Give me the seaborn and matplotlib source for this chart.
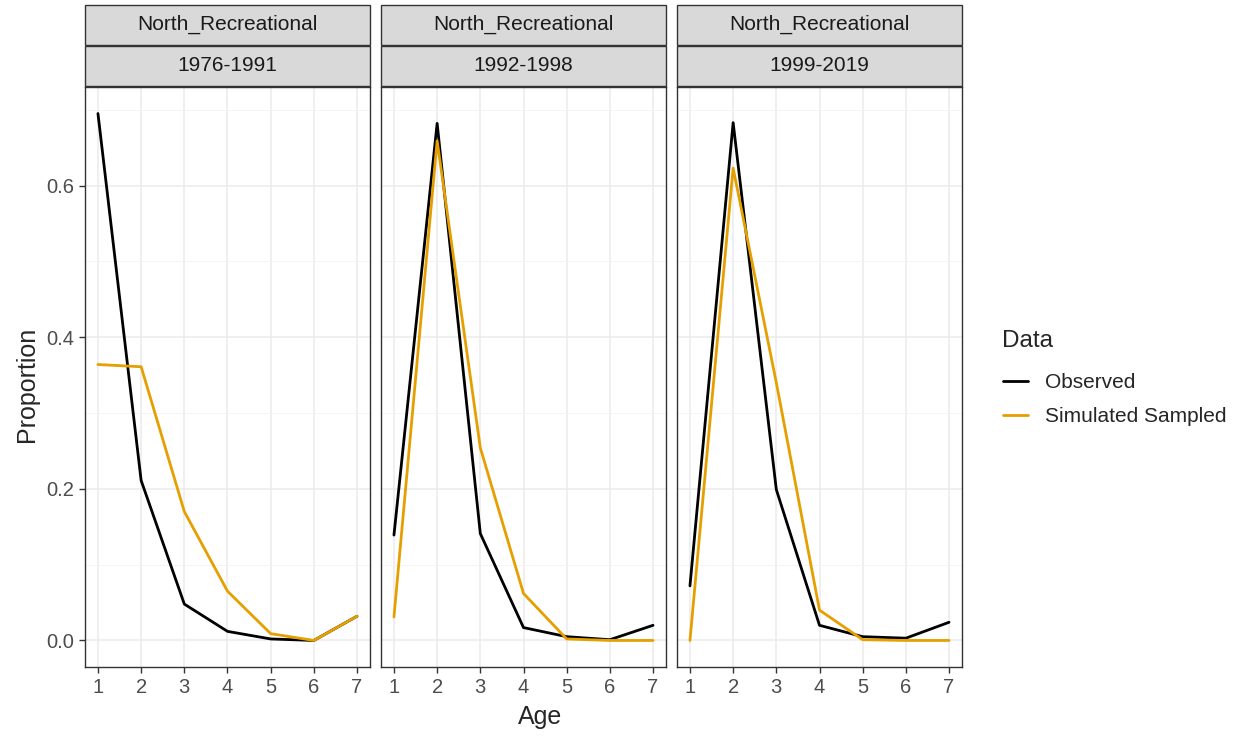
import pandas as pd
import numpy as np
import matplotlib
matplotlib.use('Agg')
import matplotlib.pyplot as plt
from matplotlib.patches import Rectangle
from matplotlib.ticker import MultipleLocator
import seaborn as sns

# Data
ages = [1, 2, 3, 4, 5, 6, 7]
periods = ['1976-1991', '1992-1998', '1999-2019']
region = 'North_Recreational'

observed_1976 = [0.695, 0.211, 0.048, 0.012, 0.002, 0.0, 0.032]
simulated_1976 = [0.364, 0.361, 0.170, 0.065, 0.009, 0.0, 0.032]
observed_1992 = [0.139, 0.682, 0.141, 0.017, 0.005, 0.001, 0.020]
simulated_1992 = [0.031, 0.659, 0.254, 0.062, 0.002, 0.0, 0.0]
observed_1999 = [0.072, 0.683, 0.199, 0.020, 0.005, 0.003, 0.024]
simulated_1999 = [0.0, 0.623, 0.340, 0.040, 0.001, 0.0, 0.0]

series = {
    '1976-1991': (observed_1976, simulated_1976),
    '1992-1998': (observed_1992, simulated_1992),
    '1999-2019': (observed_1999, simulated_1999),
}

rows = []
for period, (obs, sim) in series.items():
    for a, o, s in zip(ages, obs, sim):
        rows.append({'Period': period, 'Age': a, 'Proportion': o, 'Data': 'Observed'})
        rows.append({'Period': period, 'Age': a, 'Proportion': s, 'Data': 'Simulated Sampled'})
df = pd.DataFrame(rows)

sns.set_theme(style='white')
plt.rcParams['font.family'] = ['Liberation Sans', 'DejaVu Sans']
palette = {'Observed': '#000000', 'Simulated Sampled': '#E69F00'}

fig = plt.figure(figsize=(12.38, 7.36), dpi=100)
W, H = 1238, 736
lefts = [85, 381, 677]
pw = 285
top, bottom = 87, 667

axes = []
for i, period in enumerate(periods):
    ax = fig.add_axes([lefts[i] / W, 1 - bottom / H, pw / W, (bottom - top) / H])
    sns.lineplot(data=df[df['Period'] == period], x='Age', y='Proportion', hue='Data',
                 palette=palette, linewidth=2.0, ax=ax, legend=(i == 2))
    ax.set_xlim(0.7, 7.3)
    ax.set_ylim(-0.035, 0.73)
    ax.set_xticks(ages)
    ax.set_yticks([0.0, 0.2, 0.4, 0.6])
    ax.yaxis.set_minor_locator(MultipleLocator(0.1))
    ax.grid(which='major', color='#EBEBEB', linewidth=1.1)
    ax.grid(which='minor', axis='y', color='#F2F2F2', linewidth=0.6)
    ax.set_axisbelow(True)
    for sp in ax.spines.values():
        sp.set_color('#333333')
        sp.set_linewidth(1.0)
    ax.tick_params(axis='both', which='major', length=4.3, width=1, color='#333333',
                   labelsize=14.5, labelcolor='#4D4D4D', bottom=True, left=(i == 0), pad=3.5)
    ax.tick_params(which='minor', length=0)
    ax.set_xlabel('')
    ax.set_ylabel('')
    if i == 0:
        ax.yaxis.set_major_formatter(matplotlib.ticker.FormatStrFormatter('%.1f'))
    else:
        ax.set_yticklabels([])
    # facet strips
    strip_h = 41 / (bottom - top)
    for k, label in enumerate([region, period]):
        y0 = 1 + (1 - k) * strip_h + 0.002
        ax.add_patch(Rectangle((0, y0), 1, strip_h - 0.002, transform=ax.transAxes,
                               facecolor='#D9D9D9', edgecolor='#333333', linewidth=1.0,
                               clip_on=False))
        ax.text(0.5, y0 + strip_h / 2, label, transform=ax.transAxes, ha='center',
                va='center', fontsize=15, color='#1A1A1A')
    axes.append(ax)

handles, labels = axes[2].get_legend_handles_labels()
axes[2].get_legend().remove()
fig.text(1002 / W, 1 - 341 / H, 'Data', ha='left', va='center', fontsize=17.5)
leg = fig.legend(handles, labels, loc='upper left',
                 bbox_to_anchor=(1003 / W, 1 - 373 / H), frameon=False,
                 borderaxespad=0, borderpad=0,
                 fontsize=15, handlelength=1.2, handletextpad=0.8,
                 labelspacing=0.72)

fig.text(540 / W, 1 - 717 / H, 'Age', ha='center', va='center', fontsize=18)
fig.text(27 / W, 1 - 384 / H, 'Proportion', ha='center', va='center', fontsize=18, rotation=90)

fig.savefig('out.png', dpi=100, facecolor='white')
